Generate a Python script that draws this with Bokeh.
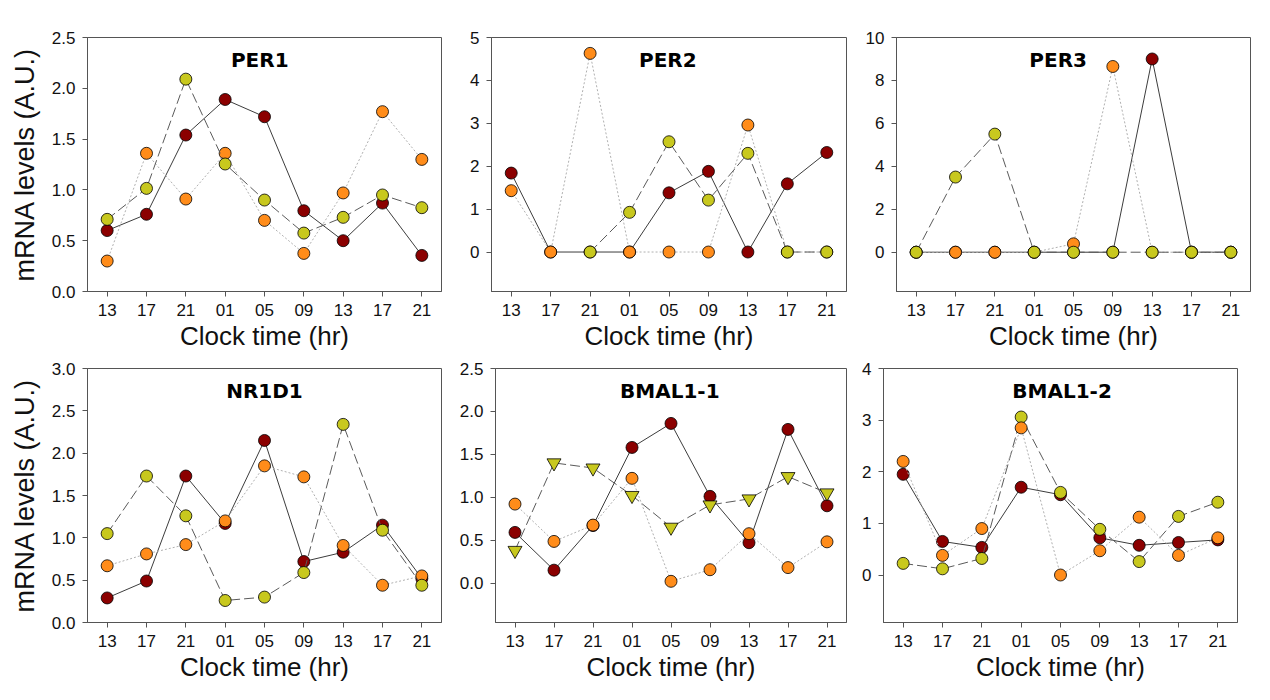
from bokeh.plotting import figure
from bokeh.layouts import column, row
from bokeh.models import FixedTicker, Label, Range1d, NumeralTickFormatter
from bokeh.embed import file_html
from bokeh.resources import INLINE

nan = float("nan")

# ---------------- data ----------------
x_labels = ["13", "17", "21", "01", "05", "09", "13", "17", "21"]
genes = ["PER1", "PER2", "PER3", "NR1D1", "BMAL1-1", "BMAL1-2"]

per1_red = [0.60, 0.76, 1.54, 1.89, 1.72, 0.795, 0.50, 0.87, 0.355]
per1_orange = [0.30, 1.36, 0.91, 1.36, 0.70, 0.375, 0.97, 1.77, 1.30]
per1_yellow = [0.71, 1.015, 2.09, 1.255, 0.90, 0.575, 0.73, 0.95, 0.825]

per2_red = [1.84, 0, 0, 0, 1.38, 1.88, 0, 1.59, 2.32]
per2_orange = [1.43, 0, 4.63, 0, 0, 0, 2.96, 0, 0]
per2_yellow = [nan, nan, 0, 0.925, 2.57, 1.21, 2.30, 0, 0]

per3_red = [0, 0, 0, 0, 0, 0, 9.0, 0, 0]
per3_orange = [0, 0, 0, 0, 0.39, 8.65, 0, 0, 0]
per3_yellow = [0, 3.5, 5.5, 0, 0, 0, 0, 0, 0]

nr1d1_red = [0.29, 0.49, 1.73, 1.17, 2.15, 0.72, 0.83, 1.15, 0.52]
nr1d1_orange = [0.67, 0.81, 0.92, 1.20, 1.85, 1.72, 0.91, 0.44, 0.55]
nr1d1_yellow = [1.05, 1.73, 1.26, 0.26, 0.30, 0.59, 2.34, 1.09, 0.44]

bmal11_red = [0.59, 0.15, 0.67, 1.58, 1.86, 1.01, 0.47, 1.79, 0.90]
bmal11_orange = [0.92, 0.485, 0.675, 1.22, 0.02, 0.155, 0.575, 0.18, 0.48]
bmal11_yellow = [0.38, 1.40, 1.34, 1.02, 0.65, 0.91, 0.98, 1.24, 1.05]

bmal12_red = [1.95, 0.65, 0.535, 1.70, 1.555, 0.72, 0.575, 0.63, 0.68]
bmal12_orange = [2.20, 0.38, 0.90, 2.85, 0.0, 0.47, 1.12, 0.38, 0.72]
bmal12_yellow = [0.225, 0.12, 0.32, 3.06, 1.60, 0.885, 0.26, 1.135, 1.41]

series_data = {
    "PER1": {"red": per1_red, "orange": per1_orange, "yellow": per1_yellow},
    "PER2": {"red": per2_red, "orange": per2_orange, "yellow": per2_yellow},
    "PER3": {"red": per3_red, "orange": per3_orange, "yellow": per3_yellow},
    "NR1D1": {"red": nr1d1_red, "orange": nr1d1_orange, "yellow": nr1d1_yellow},
    "BMAL1-1": {"red": bmal11_red, "orange": bmal11_orange, "yellow": bmal11_yellow},
    "BMAL1-2": {"red": bmal12_red, "orange": bmal12_orange, "yellow": bmal12_yellow},
}

# ---------------- styles / layout ----------------
styles = {
    "red": dict(fill="#8B0000", line="#3c3c3c", dash="solid"),
    "orange": dict(fill="#FF8C1A", line="#b0b0b0", dash="2 2"),
    "yellow": dict(fill="#C8C81E", line="#5a5a5a", dash="10 4"),
}

panel_cfg = {
    "PER1": dict(yr=(0, 2.5), yt=[0, 0.5, 1.0, 1.5, 2.0, 2.5], fmt="0.0", tx=3.88,
                 w=456, h=355, bl=87, br=15, bt=37, ylabel=True),
    "PER2": dict(yr=(-0.92, 5), yt=[0, 1, 2, 3, 4, 5], fmt="0", tx=3.97,
                 w=406, h=355, bl=35, br=16, bt=37, ylabel=False),
    "PER3": dict(yr=(-1.83, 10), yt=[0, 2, 4, 6, 8, 10], fmt="0", tx=3.61,
                 w=396, h=355, bl=34, br=8, bt=37, ylabel=False),
    "NR1D1": dict(yr=(0, 3.0), yt=[0, 0.5, 1.0, 1.5, 2.0, 2.5, 3.0], fmt="0.0", tx=4.0,
                  w=456, h=331, bl=87, br=15, bt=13, ylabel=True),
    "BMAL1-1": dict(yr=(-0.46, 2.5), yt=[0, 0.5, 1.0, 1.5, 2.0, 2.5], fmt="0.0", tx=3.97,
                    w=402, h=331, bl=35, br=12, bt=13, ylabel=False),
    "BMAL1-2": dict(yr=(-0.92, 4), yt=[0, 1, 2, 3, 4], fmt="0", tx=4.04,
                    w=392, h=331, bl=25, br=13, bt=13, ylabel=False),
}

FRAME_H = 254
TITLE_DROP = 22
AX = "#555555"


def make_panel(gene):
    c = panel_cfg[gene]
    ymin, ymax = c["yr"]
    p = figure(width=c["w"], height=c["h"], x_range=Range1d(-0.5, 8.5),
               y_range=Range1d(ymin, ymax), output_backend="svg",
               toolbar_location=None, min_border_left=c["bl"],
               min_border_right=c["br"], min_border_top=c["bt"],
               min_border_bottom=64)
    p.xgrid.visible = False
    p.ygrid.visible = False
    p.outline_line_color = AX
    p.outline_line_width = 1
    p.background_fill_color = "white"
    p.border_fill_color = "white"

    p.xaxis.ticker = FixedTicker(ticks=list(range(len(x_labels))))
    p.xaxis.major_label_overrides = {i: lab for i, lab in enumerate(x_labels)}
    p.yaxis.ticker = FixedTicker(ticks=c["yt"])
    p.yaxis.formatter = NumeralTickFormatter(format=c["fmt"])

    for ax in (p.xaxis[0], p.yaxis[0]):
        ax.axis_line_color = AX
        ax.major_tick_line_color = AX
        ax.major_tick_out = 5
        ax.major_tick_in = 0
        ax.minor_tick_line_color = None
        ax.major_label_text_font = "Liberation Sans"
        ax.major_label_text_font_size = "17px"
        ax.major_label_text_color = "#111111"
        ax.major_label_standoff = 7
        ax.axis_label_text_font = "Liberation Sans"
        ax.axis_label_text_font_size = "26px"
        ax.axis_label_text_font_style = "normal"
        ax.axis_label_text_color = "#111111"

    p.xaxis.axis_label = "Clock time (hr)"
    p.xaxis.axis_label_standoff = 2
    if c["ylabel"]:
        p.yaxis.axis_label = "mRNA levels (A.U.)"
        p.yaxis.axis_label_text_font_size = "27px"
        p.yaxis.axis_label_standoff = 9

    order = ["red", "yellow", "orange"] if gene == "BMAL1-2" else ["red", "orange", "yellow"]
    xs = list(range(len(x_labels)))
    for key in order:
        st = styles[key]
        ys = series_data[gene][key]
        p.line(xs, ys, line_color=st["line"], line_width=1, line_dash=st["dash"])
        marker = "inverted_triangle" if (gene == "BMAL1-1" and key == "yellow") else "circle"
        size = 14 if marker == "inverted_triangle" else 12
        p.scatter(xs, ys, marker=marker, size=size, fill_color=st["fill"],
                  line_color="black", line_width=0.8)

    ty = ymax - TITLE_DROP * (ymax - ymin) / FRAME_H
    p.add_layout(Label(x=c["tx"], y=ty, text=gene, text_font="DejaVu Sans",
                       text_font_style="bold", text_font_size="20px",
                       text_align="center", text_baseline="alphabetic",
                       text_color="#000000"))
    return p


figs = [make_panel(g) for g in genes]
layout = column(row(*figs[:3]), row(*figs[3:]))

open("out.html", "w").write(file_html(layout, INLINE))
